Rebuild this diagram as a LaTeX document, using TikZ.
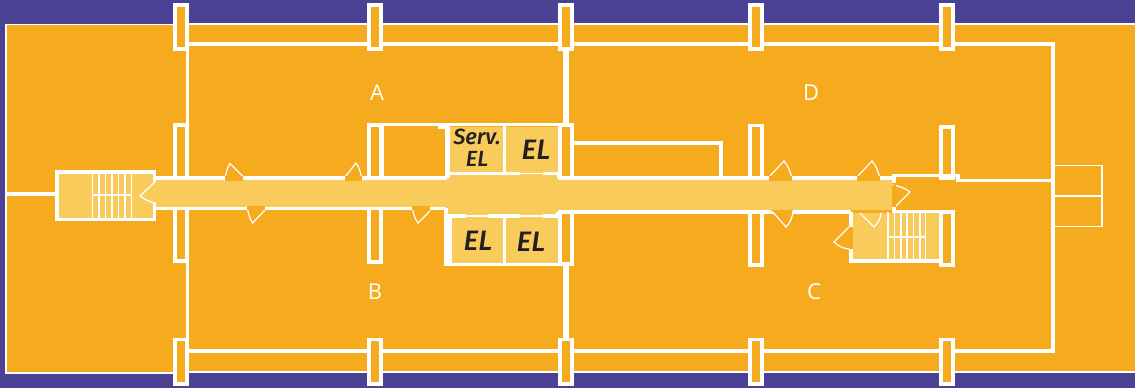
\documentclass[tikz,border=0pt]{standalone}
\usepackage{fontspec}
\setmainfont{Open Sans}
\newfontfamily\elfont{Fira Sans Medium}
\definecolor{planbg}{HTML}{4B4195}
\definecolor{planorange}{HTML}{F6AA1E}
\definecolor{planlight}{HTML}{F9CB5B}
\definecolor{planink}{HTML}{231F20}
\tikzset{
  wall/.style={draw=white, line width=2pt},
  thickwall/.style={draw=white, line width=3.4pt},
  hairwall/.style={draw=white, line width=0.85pt},
  pillar/.style={draw=white, fill=planorange, line width=2pt},
  doorleaf/.style={draw=white, fill=planorange, line width=0.7pt},
  doorlight/.style={draw=white, fill=planlight, line width=0.7pt},
  tread/.style={draw=white, line width=0.7pt},
  roomlabel/.style={text=white, font=\fontsize{12.5}{14}\selectfont},
  ellabel/.style={text=planink, font=\elfont\itshape\fontsize{16}{17}\selectfont},
}
\begin{document}
\begin{tikzpicture}[x=0.02cm, y=-0.02cm]
\useasboundingbox (0,0) rectangle (1135,388);

% Ground
\fill[planbg] (0,0) rectangle (1135,388);
\draw[fill=planorange, draw=white, line width=0.6pt] (1140,24) -- (181,24) -- (181,24.5) -- (6,24.5) -- (6,373) -- (181,373) -- (181,372) -- (1140,372);

% Outer walls
\draw[wall] (187.5,178) -- (187.5,44) -- (1053,44) -- (1053,351) -- (187.5,351) -- (187.5,208);
\draw[thickwall] (566,44) -- (566,178) (566,212) -- (566,351);
\draw[wall] (6,194) -- (57,194);

% Annex on the right
\draw[hairwall] (1053,165.5) rectangle (1102,226.5);
\draw[hairwall] (1053,196) -- (1102,196);

% Pillars
\foreach \px in {181,375,566,756,947} {
  \draw[pillar] (\px-6.2,5) rectangle (\px+6.2,49);
  \draw[pillar] (\px-6.2,339.5) rectangle (\px+6.2,384);
}
\foreach \px/\tp/\mt/\bt in {181/125/208.5/261, 375/125/208.5/262, 566/125/212/264, 756/125.5/212/265, 947/127/212/265} {
  \draw[pillar] (\px-6.2,\tp) rectangle (\px+6.2,178);
  \draw[pillar] (\px-6.2,\mt) rectangle (\px+6.2,\bt);
}

% Corridor
\fill[planlight] (155,180) rectangle (892,207);
\fill[planlight] (558,180) rectangle (892,210);
\fill[planlight] (447,174) rectangle (558,216);

% Corridor walls
\draw[wall] (155,178) -- (447,178);
\draw[wall] (155,208.5) -- (445.5,208.5);
\draw[wall] (558,178) -- (894,178) -- (894,175.5) -- (958,175.5) -- (958,180.5) -- (1052,180.5);
\draw[wall] (558,212) -- (851,212);
\draw[wall] (894,175.5) -- (894,183) (894,207) -- (894,212) -- (948,212);

% Lift block above the corridor
\fill[planlight] (448,127) rectangle (503,174);
\fill[planlight] (506,127) rectangle (558,174);
\draw[wall] (367,124.5) -- (573,124.5);
\draw[wall] (382,126) -- (382,178);
\draw[thickwall] (447.5,126) -- (447.5,178);
\draw[wall] (504.5,125) -- (504.5,174);
\draw[wall] (438,127) -- (445,127);
\draw[wall] (447,173.5) -- (520,173.5) (543,173.5) -- (559,173.5) -- (559,178);
\draw[tread] (520,173.5) -- (543,173.5);

% Lift block below the corridor
\fill[planlight] (452,216) rectangle (503,263);
\fill[planlight] (506,216) rectangle (558,263);
\draw[wall] (446,208.5) -- (446,266);
\draw[wall] (450,215) -- (450,265);
\draw[wall] (445,264.5) -- (573,264.5);
\draw[wall] (504.5,216) -- (504.5,264);
\draw[wall] (448,216) -- (466,216) (488,216) -- (520,216) (543,216) -- (558,216) -- (558,212);
\draw[tread] (466,216) -- (488,216) (520,216) -- (543,216);

% Room beside the corridor
\draw[wall] (573,143) -- (721,143) -- (721,178);

% Left stair
\fill[planlight] (57,172) rectangle (154,219.5);
\draw[wall] (154.5,182) -- (154.5,172) -- (57,172) -- (57,219.5) -- (154.5,219.5) -- (154.5,203);
\foreach \tx in {92.5,99,105.5,112,118.5,125,131.5} {
  \draw[tread] (\tx,172) -- (\tx,220);
}
\draw[tread] (92,195) -- (132,195);
\draw[doorlight] (155.5,181.5) -- (140,196) .. controls (145,200) and (150,202) .. (155.5,203);

% Right stair
\fill[planlight] (853,213) rectangle (939,260);
\draw[wall] (851,212) -- (851,227) (851,249) -- (851,261) -- (940,261);
\foreach \tx in {888,894.5,901,907,913.5,920,925.5} {
  \draw[tread] (\tx,212) -- (\tx,262);
}
\draw[tread] (888,237) -- (925.5,237);
\draw[pillar] (940.8,212) rectangle (953.2,265);

% Doors
\draw[doorleaf] (225,181) .. controls (225.5,174) and (227,168) .. (230,163.5) -- (243,176.5);
\fill[planorange] (225,176) rectangle (243,181);
\draw[doorleaf] (247,206) .. controls (248,213) and (249.5,218) .. (252.5,223) -- (265,210);
\fill[planorange] (247,206) rectangle (265,210.5);
\draw[doorleaf] (345,177) -- (356,163) .. controls (359,167) and (361.5,174) .. (362,181);
\fill[planorange] (345,176) rectangle (362,181);
\draw[doorleaf] (412,206) .. controls (413,213) and (415,219) .. (418,223) -- (430,211);
\fill[planorange] (412,206) rectangle (430,210.5);
\draw[doorleaf] (769,177) -- (784,161) .. controls (788,166) and (791.5,173) .. (792,181);
\fill[planorange] (769,176) rectangle (792,181);
\draw[doorleaf] (857,177) -- (872,161) .. controls (876,166) and (879.5,173) .. (880,181);
\fill[planorange] (857,176) rectangle (880,181);
\draw[doorleaf] (771,210) -- (786,227) .. controls (790,223) and (793,217) .. (793,210);
\fill[planorange] (771,210) rectangle (793,211);
\draw[doorlight] (860,213) -- (874,227) .. controls (878,223) and (881,218) .. (881,213);
\draw[doorleaf] (892,185) .. controls (899,186) and (905,188) .. (910,192) -- (895,207);
\fill[planorange] (892,185) rectangle (896,207);
\draw[doorleaf] (849,227) -- (834,242) .. controls (838,246) and (843,248.5) .. (849,249);
\fill[planorange] (849,227) rectangle (853,249);

% Labels
\node[roomlabel] (roomA) at (377,93) {A};
\node[roomlabel] (roomD) at (811,93) {D};
\node[roomlabel] (roomB) at (375,292) {B};
\node[roomlabel] (roomC) at (814,292) {C};
\node[ellabel, align=center, font=\elfont\itshape\fontsize{12.5}{12.5}\selectfont] (liftS) at (477,147.5) {Serv.\\EL};
\node[ellabel] (liftA) at (536,150) {EL};
\node[ellabel] (liftB) at (478,241) {EL};
\node[ellabel] (liftC) at (531,242) {EL};

\end{tikzpicture}
\end{document}
